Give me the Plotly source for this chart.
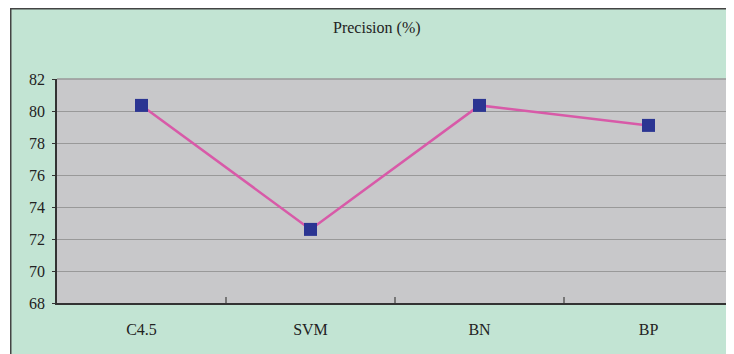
import plotly.graph_objects as go

categories = ["C4.5", "SVM", "BN", "BP"]
precision = [80.35, 72.6, 80.35, 79.1]
y_ticks = [68, 70, 72, 74, 76, 78, 80, 82]

W, H = 734, 354
OFF = 8  # page body margin
L, T = 57 - OFF, 79 - OFF
R = W - (733 - OFF)
B = H - (303 - OFF)
pw, ph = W - L - R, H - T - B

def px_x(p):  # page pixel -> paper x
    return (p - OFF - L) / pw

def px_y(p):  # page pixel -> paper y
    return (H - B - (p - OFF)) / ph

fig = go.Figure()
fig.add_trace(go.Scatter(
    x=categories, y=precision, mode="lines+markers",
    line=dict(color="#D85AA8", width=2.5),
    marker=dict(symbol="square", size=13, color="#2B3592"),
    cliponaxis=False, showlegend=False,
))

font = dict(family="Liberation Serif, Times New Roman, serif", size=16, color="#222")

fig.update_layout(
    width=W, height=H,
    margin=dict(l=L, r=R, t=T, b=B, pad=0),
    paper_bgcolor="#C2E4D3",
    plot_bgcolor="#C8C8CA",
    font=font,
    xaxis=dict(
        type="category", range=[-0.5, 3.5],
        showgrid=False, showline=True, linecolor="#333", linewidth=1.5,
        ticks="inside", tickson="boundaries", ticklen=6, tickcolor="#777", tickwidth=2,
        ticklabelstandoff=11, tickfont=font,
    ),
    yaxis=dict(
        range=[68, 82], tickvals=y_ticks,
        showgrid=True, gridcolor="#999", gridwidth=1,
        showline=True, linecolor="#333", linewidth=1.5,
        ticks="outside", ticklen=3, tickcolor="#333",
        ticklabelstandoff=4,
        zeroline=False, tickfont=font,
    ),
    annotations=[dict(
        text="Precision (%)", xref="paper", yref="paper",
        x=px_x(377), y=px_y(28), xanchor="center", yanchor="middle",
        showarrow=False, font=dict(family="Liberation Serif, Times New Roman, serif", size=16, color="#222"),
    )],
    shapes=[
        # white outer margin on the left
        dict(type="rect", xref="paper", yref="paper", x0=px_x(OFF), x1=px_x(10), y0=px_y(H + OFF), y1=px_y(OFF),
             fillcolor="white", line=dict(width=0), layer="above"),
        # outer border
        dict(type="line", xref="paper", yref="paper", x0=px_x(10), x1=px_x(W + OFF), y0=px_y(8.75), y1=px_y(8.75),
             line=dict(color="#444", width=1.5)),
        dict(type="line", xref="paper", yref="paper", x0=px_x(10.75), x1=px_x(10.75), y0=px_y(8), y1=px_y(H + OFF),
             line=dict(color="#444", width=1.5)),
        # plot-area top/right border
        dict(type="line", xref="paper", yref="paper", x0=0, x1=1, y0=1, y1=1,
             line=dict(color="#999", width=1.5)),
        dict(type="line", xref="paper", yref="paper", x0=1, x1=1, y0=0, y1=1,
             line=dict(color="#999", width=1.5)),
    ],
)

fig.write_html("out.html")
